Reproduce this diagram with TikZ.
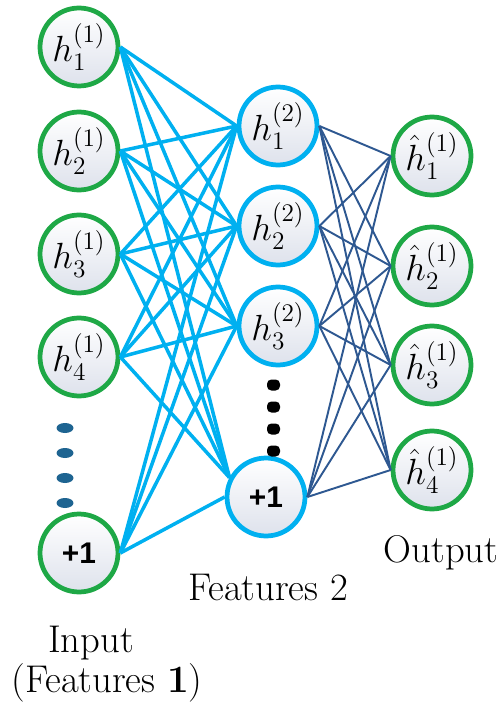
\documentclass[tikz,border=0pt]{standalone}
\usepackage{amsmath}
\usepackage{fontspec}
\newfontfamily\plusfont{Liberation Sans}
\usepackage{xcolor}
\definecolor{nngreen}{RGB}{30, 168, 70}
\definecolor{nnblue}{RGB}{0, 176, 240}
\definecolor{nndark}{RGB}{46, 88, 145}
\definecolor{nndots}{RGB}{30, 100, 145}
\definecolor{nnfill}{RGB}{222, 226, 236}
\usetikzlibrary{shadings}

\begin{document}
\begin{tikzpicture}[
    x=0.02cm, y=-0.02cm,
    unit/.style={circle, minimum size=1.56cm, inner sep=0pt, line width=2.7pt,
                 top color=white, bottom color=nnfill,
                 font=\fontsize{21}{24}\selectfont},
    inp/.style={unit, draw=nngreen},
    hid/.style={unit, draw=nnblue},
    bias/.style={font=\plusfont\bfseries\fontsize{17}{20}\selectfont},
    lnk/.style={nnblue, line width=2pt},
    lnkdark/.style={nndark, line width=1.1pt},
    lbl/.style={font=\fontsize{22}{26}\selectfont}
  ]
  \useasboundingbox (0,0) rectangle (503,709);

  % input layer
  \node[inp] (i1) at (79,47)  {$h_1^{(1)}$};
  \node[inp] (i2) at (79,151) {$h_2^{(1)}$};
  \node[inp] (i3) at (79,254) {$h_3^{(1)}$};
  \node[inp] (i4) at (79,357) {$h_4^{(1)}$};
  \node[inp, bias] (ib) at (79,553) {+1};

  % hidden layer
  \node[hid] (m1) at (278,126) {$h_1^{(2)}$};
  \node[hid] (m2) at (278,226) {$h_2^{(2)}$};
  \node[hid] (m3) at (278,326) {$h_3^{(2)}$};
  \node[hid, bias] (mb) at (266,497) {+1};

  % output layer
  \node[inp] (o1) at (432,156) {$\hat{h}_1^{(1)}$};
  \node[inp] (o2) at (432,266) {$\hat{h}_2^{(1)}$};
  \node[inp] (o3) at (432,365) {$\hat{h}_3^{(1)}$};
  \node[inp] (o4) at (432,470) {$\hat{h}_4^{(1)}$};

  % dots
  \foreach \y in {428,453,478,503}
    \fill[nndots] (65,\y) ellipse [x radius=8.5, y radius=5];
  \foreach \y in {385,407,429,451}
    \fill[black, rounded corners=2.5pt] (267,\y-5.5) rectangle (280,\y+5.5);

  % connections
  \foreach \s in {i1,i2,i3,i4,ib}
    \foreach \t in {m1,m2,m3}
      \draw[lnk] (\s.east) -- (\t.west);
  \foreach \s in {i1,i2,i3,i4}
    \draw[lnk] (\s.east) -- (mb.152);
  \draw[lnk] (ib.east) -- (mb.west);
  \foreach \s in {m1,m2,m3,mb}
    \foreach \t in {o1,o2,o3,o4}
      \draw[lnkdark] (\s.east) -- (\t.west);

  % labels
  \node[lbl] (inlbl) at (91,643) {Input};
  \node[lbl] (inlbl2) at (107,683) {(Features \textbf{1})};
  \node[lbl] (hidlbl) at (268,587) {Features 2};
  \node[lbl] (outlbl) at (441,553) {Output};
\end{tikzpicture}
\end{document}
